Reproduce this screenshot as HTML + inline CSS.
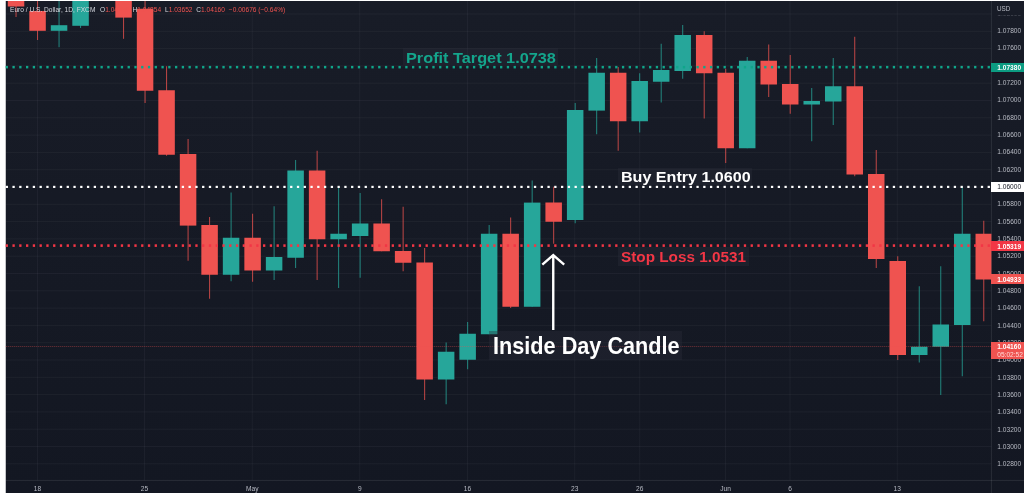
<!DOCTYPE html>
<html><head><meta charset="utf-8"><title>EURUSD Inside Day</title>
<style>
html,body{margin:0;padding:0;background:#fff;}
body{width:1024px;height:493px;overflow:hidden;position:relative;font-family:"Liberation Sans",sans-serif;}
svg{position:absolute;left:0;top:0;}
.pl{position:absolute;font-size:6.6px;line-height:8px;height:8px;margin-top:-3.6px;color:#b8bbc4;white-space:nowrap;}
.tl{position:absolute;top:485px;font-size:6.6px;line-height:8px;color:#b8bbc4;transform:translateX(-50%);white-space:nowrap;}
.tag{position:absolute;left:991.4px;width:32.6px;box-sizing:border-box;padding-left:5.9px;font-size:6.6px;line-height:9px;font-weight:bold;color:#fff;white-space:nowrap;}
.ann{position:absolute;font-weight:bold;white-space:nowrap;background:rgba(42,46,57,0.38);}
.ann span{display:inline-block;transform-origin:0 50%;}
.lg{position:absolute;top:6.2px;font-size:6.6px;line-height:8px;white-space:nowrap;color:#d4d7de;}
.lg i{font-style:normal;color:#ef5350;}
#w{position:absolute;left:0;top:0;width:1024px;height:493px;filter:blur(0.35px);}
</style></head><body><div id="w">
<svg width="1024" height="493" viewBox="0 0 1024 493">
<defs><linearGradient id="bgg" x1="0" y1="0" x2="0" y2="1"><stop offset="0" stop-color="#181c27"/><stop offset="1" stop-color="#131722"/></linearGradient></defs>
<rect x="5.75" y="1.0" width="1018.25" height="492.0" fill="url(#bgg)"/>
<rect x="5.75" y="13.50" width="985.65" height="1" fill="rgba(240,243,250,0.045)"/>
<rect x="5.75" y="30.80" width="985.65" height="1" fill="rgba(240,243,250,0.045)"/>
<rect x="5.75" y="48.10" width="985.65" height="1" fill="rgba(240,243,250,0.045)"/>
<rect x="5.75" y="65.40" width="985.65" height="1" fill="rgba(240,243,250,0.045)"/>
<rect x="5.75" y="82.70" width="985.65" height="1" fill="rgba(240,243,250,0.045)"/>
<rect x="5.75" y="100.00" width="985.65" height="1" fill="rgba(240,243,250,0.045)"/>
<rect x="5.75" y="117.30" width="985.65" height="1" fill="rgba(240,243,250,0.045)"/>
<rect x="5.75" y="134.60" width="985.65" height="1" fill="rgba(240,243,250,0.045)"/>
<rect x="5.75" y="151.90" width="985.65" height="1" fill="rgba(240,243,250,0.045)"/>
<rect x="5.75" y="169.20" width="985.65" height="1" fill="rgba(240,243,250,0.045)"/>
<rect x="5.75" y="186.50" width="985.65" height="1" fill="rgba(240,243,250,0.045)"/>
<rect x="5.75" y="203.80" width="985.65" height="1" fill="rgba(240,243,250,0.045)"/>
<rect x="5.75" y="221.10" width="985.65" height="1" fill="rgba(240,243,250,0.045)"/>
<rect x="5.75" y="238.40" width="985.65" height="1" fill="rgba(240,243,250,0.045)"/>
<rect x="5.75" y="255.70" width="985.65" height="1" fill="rgba(240,243,250,0.045)"/>
<rect x="5.75" y="273.00" width="985.65" height="1" fill="rgba(240,243,250,0.045)"/>
<rect x="5.75" y="290.30" width="985.65" height="1" fill="rgba(240,243,250,0.045)"/>
<rect x="5.75" y="307.60" width="985.65" height="1" fill="rgba(240,243,250,0.045)"/>
<rect x="5.75" y="324.90" width="985.65" height="1" fill="rgba(240,243,250,0.045)"/>
<rect x="5.75" y="342.20" width="985.65" height="1" fill="rgba(240,243,250,0.045)"/>
<rect x="5.75" y="359.50" width="985.65" height="1" fill="rgba(240,243,250,0.045)"/>
<rect x="5.75" y="376.80" width="985.65" height="1" fill="rgba(240,243,250,0.045)"/>
<rect x="5.75" y="394.10" width="985.65" height="1" fill="rgba(240,243,250,0.045)"/>
<rect x="5.75" y="411.40" width="985.65" height="1" fill="rgba(240,243,250,0.045)"/>
<rect x="5.75" y="428.70" width="985.65" height="1" fill="rgba(240,243,250,0.045)"/>
<rect x="5.75" y="446.00" width="985.65" height="1" fill="rgba(240,243,250,0.045)"/>
<rect x="5.75" y="463.30" width="985.65" height="1" fill="rgba(240,243,250,0.045)"/>
<rect x="37.00" y="1.0" width="1" height="479.40" fill="rgba(240,243,250,0.045)"/>
<rect x="144.00" y="1.0" width="1" height="479.40" fill="rgba(240,243,250,0.045)"/>
<rect x="251.75" y="1.0" width="1" height="479.40" fill="rgba(240,243,250,0.045)"/>
<rect x="359.25" y="1.0" width="1" height="479.40" fill="rgba(240,243,250,0.045)"/>
<rect x="467.00" y="1.0" width="1" height="479.40" fill="rgba(240,243,250,0.045)"/>
<rect x="574.25" y="1.0" width="1" height="479.40" fill="rgba(240,243,250,0.045)"/>
<rect x="639.25" y="1.0" width="1" height="479.40" fill="rgba(240,243,250,0.045)"/>
<rect x="725.00" y="1.0" width="1" height="479.40" fill="rgba(240,243,250,0.045)"/>
<rect x="789.50" y="1.0" width="1" height="479.40" fill="rgba(240,243,250,0.045)"/>
<rect x="896.75" y="1.0" width="1" height="479.40" fill="rgba(240,243,250,0.045)"/>
<rect x="990.90" y="1.0" width="1" height="492.0" fill="rgba(240,243,250,0.10)"/>
<rect x="5.75" y="479.90" width="1018.25" height="1" fill="rgba(240,243,250,0.10)"/>
<clipPath id="cp"><rect x="5.75" y="1.0" width="985.65" height="479.40"/></clipPath>
<g clip-path="url(#cp)">
<rect x="15.54" y="1.00" width="1.0" height="16.00" fill="#ef5350" opacity="0.78"/>
<rect x="7.79" y="1.00" width="16.5" height="5.50" fill="#ef5350"/>
<rect x="37.05" y="1.00" width="1.0" height="39.00" fill="#ef5350" opacity="0.78"/>
<rect x="29.30" y="11.00" width="16.5" height="19.80" fill="#ef5350"/>
<rect x="58.55" y="1.00" width="1.0" height="46.20" fill="#26a69a" opacity="0.78"/>
<rect x="50.80" y="25.20" width="16.5" height="5.60" fill="#26a69a"/>
<rect x="80.06" y="1.00" width="1.0" height="27.00" fill="#26a69a" opacity="0.78"/>
<rect x="72.31" y="1.00" width="16.5" height="24.80" fill="#26a69a"/>
<rect x="123.07" y="1.00" width="1.0" height="37.80" fill="#ef5350" opacity="0.78"/>
<rect x="115.32" y="1.00" width="16.5" height="16.60" fill="#ef5350"/>
<rect x="144.57" y="1.00" width="1.0" height="102.00" fill="#ef5350" opacity="0.78"/>
<rect x="136.82" y="8.75" width="16.5" height="82.00" fill="#ef5350"/>
<rect x="166.08" y="66.25" width="1.0" height="89.50" fill="#ef5350" opacity="0.78"/>
<rect x="158.33" y="90.25" width="16.5" height="64.50" fill="#ef5350"/>
<rect x="187.58" y="139.00" width="1.0" height="121.75" fill="#ef5350" opacity="0.78"/>
<rect x="179.83" y="154.00" width="16.5" height="71.60" fill="#ef5350"/>
<rect x="209.09" y="217.00" width="1.0" height="81.75" fill="#ef5350" opacity="0.78"/>
<rect x="201.34" y="225.00" width="16.5" height="49.75" fill="#ef5350"/>
<rect x="230.59" y="192.50" width="1.0" height="88.75" fill="#26a69a" opacity="0.78"/>
<rect x="222.84" y="237.75" width="16.5" height="37.00" fill="#26a69a"/>
<rect x="252.10" y="213.75" width="1.0" height="68.00" fill="#ef5350" opacity="0.78"/>
<rect x="244.35" y="237.75" width="16.5" height="32.75" fill="#ef5350"/>
<rect x="273.60" y="206.25" width="1.0" height="73.75" fill="#26a69a" opacity="0.78"/>
<rect x="265.85" y="257.00" width="16.5" height="13.50" fill="#26a69a"/>
<rect x="295.11" y="160.00" width="1.0" height="108.00" fill="#26a69a" opacity="0.78"/>
<rect x="287.36" y="170.50" width="16.5" height="87.25" fill="#26a69a"/>
<rect x="316.62" y="150.75" width="1.0" height="129.25" fill="#ef5350" opacity="0.78"/>
<rect x="308.87" y="170.50" width="16.5" height="68.75" fill="#ef5350"/>
<rect x="338.12" y="186.75" width="1.0" height="101.25" fill="#26a69a" opacity="0.78"/>
<rect x="330.37" y="233.75" width="16.5" height="5.50" fill="#26a69a"/>
<rect x="359.62" y="193.00" width="1.0" height="84.75" fill="#26a69a" opacity="0.78"/>
<rect x="351.88" y="223.50" width="16.5" height="12.50" fill="#26a69a"/>
<rect x="381.13" y="199.25" width="1.0" height="52.00" fill="#ef5350" opacity="0.78"/>
<rect x="373.38" y="223.50" width="16.5" height="27.75" fill="#ef5350"/>
<rect x="402.63" y="206.75" width="1.0" height="64.50" fill="#ef5350" opacity="0.78"/>
<rect x="394.88" y="251.00" width="16.5" height="11.75" fill="#ef5350"/>
<rect x="424.14" y="248.00" width="1.0" height="152.00" fill="#ef5350" opacity="0.78"/>
<rect x="416.39" y="262.50" width="16.5" height="117.00" fill="#ef5350"/>
<rect x="445.64" y="342.50" width="1.0" height="61.75" fill="#26a69a" opacity="0.78"/>
<rect x="437.89" y="351.75" width="16.5" height="27.75" fill="#26a69a"/>
<rect x="467.15" y="322.00" width="1.0" height="47.25" fill="#26a69a" opacity="0.78"/>
<rect x="459.40" y="333.75" width="16.5" height="26.00" fill="#26a69a"/>
<rect x="488.65" y="225.00" width="1.0" height="109.25" fill="#26a69a" opacity="0.78"/>
<rect x="480.90" y="233.75" width="16.5" height="100.50" fill="#26a69a"/>
<rect x="510.16" y="217.50" width="1.0" height="90.50" fill="#ef5350" opacity="0.78"/>
<rect x="502.41" y="233.75" width="16.5" height="73.00" fill="#ef5350"/>
<rect x="531.66" y="180.50" width="1.0" height="126.25" fill="#26a69a" opacity="0.78"/>
<rect x="523.91" y="202.60" width="16.5" height="104.15" fill="#26a69a"/>
<rect x="553.17" y="186.75" width="1.0" height="57.00" fill="#ef5350" opacity="0.78"/>
<rect x="545.42" y="202.50" width="16.5" height="19.25" fill="#ef5350"/>
<rect x="574.67" y="103.00" width="1.0" height="120.25" fill="#26a69a" opacity="0.78"/>
<rect x="566.92" y="110.00" width="16.5" height="110.00" fill="#26a69a"/>
<rect x="596.18" y="58.00" width="1.0" height="76.25" fill="#26a69a" opacity="0.78"/>
<rect x="588.43" y="72.75" width="16.5" height="37.85" fill="#26a69a"/>
<rect x="617.68" y="67.00" width="1.0" height="83.75" fill="#ef5350" opacity="0.78"/>
<rect x="609.93" y="72.75" width="16.5" height="48.50" fill="#ef5350"/>
<rect x="639.19" y="73.25" width="1.0" height="59.25" fill="#26a69a" opacity="0.78"/>
<rect x="631.44" y="81.00" width="16.5" height="40.25" fill="#26a69a"/>
<rect x="660.69" y="43.75" width="1.0" height="58.75" fill="#26a69a" opacity="0.78"/>
<rect x="652.94" y="70.00" width="16.5" height="11.75" fill="#26a69a"/>
<rect x="682.20" y="25.00" width="1.0" height="53.75" fill="#26a69a" opacity="0.78"/>
<rect x="674.45" y="35.00" width="16.5" height="36.00" fill="#26a69a"/>
<rect x="703.70" y="31.25" width="1.0" height="87.25" fill="#ef5350" opacity="0.78"/>
<rect x="695.95" y="35.00" width="16.5" height="38.25" fill="#ef5350"/>
<rect x="725.21" y="68.75" width="1.0" height="94.25" fill="#ef5350" opacity="0.78"/>
<rect x="717.46" y="72.75" width="16.5" height="75.50" fill="#ef5350"/>
<rect x="746.71" y="57.00" width="1.0" height="91.25" fill="#26a69a" opacity="0.78"/>
<rect x="738.96" y="60.75" width="16.5" height="87.50" fill="#26a69a"/>
<rect x="768.22" y="44.50" width="1.0" height="52.50" fill="#ef5350" opacity="0.78"/>
<rect x="760.47" y="60.75" width="16.5" height="23.75" fill="#ef5350"/>
<rect x="789.72" y="55.00" width="1.0" height="58.75" fill="#ef5350" opacity="0.78"/>
<rect x="781.97" y="84.00" width="16.5" height="20.50" fill="#ef5350"/>
<rect x="811.23" y="88.00" width="1.0" height="53.25" fill="#26a69a" opacity="0.78"/>
<rect x="803.48" y="101.00" width="16.5" height="3.50" fill="#26a69a"/>
<rect x="832.73" y="58.00" width="1.0" height="67.00" fill="#26a69a" opacity="0.78"/>
<rect x="824.98" y="86.25" width="16.5" height="15.25" fill="#26a69a"/>
<rect x="854.24" y="36.75" width="1.0" height="139.50" fill="#ef5350" opacity="0.78"/>
<rect x="846.49" y="86.25" width="16.5" height="88.25" fill="#ef5350"/>
<rect x="875.74" y="150.00" width="1.0" height="118.00" fill="#ef5350" opacity="0.78"/>
<rect x="867.99" y="174.00" width="16.5" height="85.00" fill="#ef5350"/>
<rect x="897.25" y="256.25" width="1.0" height="103.75" fill="#ef5350" opacity="0.78"/>
<rect x="889.50" y="261.00" width="16.5" height="94.00" fill="#ef5350"/>
<rect x="918.75" y="286.25" width="1.0" height="76.25" fill="#26a69a" opacity="0.78"/>
<rect x="911.00" y="346.75" width="16.5" height="8.25" fill="#26a69a"/>
<rect x="940.26" y="266.25" width="1.0" height="128.75" fill="#26a69a" opacity="0.78"/>
<rect x="932.51" y="324.50" width="16.5" height="22.25" fill="#26a69a"/>
<rect x="961.76" y="186.25" width="1.0" height="190.00" fill="#26a69a" opacity="0.78"/>
<rect x="954.01" y="233.75" width="16.5" height="91.25" fill="#26a69a"/>
<rect x="983.27" y="220.75" width="1.0" height="100.50" fill="#ef5350" opacity="0.78"/>
<rect x="975.52" y="233.75" width="16.5" height="45.75" fill="#ef5350"/>
</g>
<line x1="5.75" y1="346.4" x2="991.4" y2="346.4" stroke="#ef5350" stroke-width="0.8" stroke-dasharray="1 1" opacity="0.6"/>
<rect x="5.68" y="65.90" width="2.30" height="2.5" fill="#0fa68a"/><rect x="12.45" y="65.90" width="2.30" height="2.5" fill="#0fa68a"/><rect x="19.22" y="65.90" width="2.30" height="2.5" fill="#0fa68a"/><rect x="26.00" y="65.90" width="2.30" height="2.5" fill="#0fa68a"/><rect x="32.77" y="65.90" width="2.30" height="2.5" fill="#0fa68a"/><rect x="39.54" y="65.90" width="2.30" height="2.5" fill="#0fa68a"/><rect x="46.31" y="65.90" width="2.30" height="2.5" fill="#0fa68a"/><rect x="53.08" y="65.90" width="2.30" height="2.5" fill="#0fa68a"/><rect x="59.86" y="65.90" width="2.30" height="2.5" fill="#0fa68a"/><rect x="66.63" y="65.90" width="2.30" height="2.5" fill="#0fa68a"/><rect x="73.40" y="65.90" width="2.30" height="2.5" fill="#0fa68a"/><rect x="80.17" y="65.90" width="2.30" height="2.5" fill="#0fa68a"/><rect x="86.94" y="65.90" width="2.30" height="2.5" fill="#0fa68a"/><rect x="93.72" y="65.90" width="2.30" height="2.5" fill="#0fa68a"/><rect x="100.49" y="65.90" width="2.30" height="2.5" fill="#0fa68a"/><rect x="107.26" y="65.90" width="2.30" height="2.5" fill="#0fa68a"/><rect x="114.03" y="65.90" width="2.30" height="2.5" fill="#0fa68a"/><rect x="120.80" y="65.90" width="2.30" height="2.5" fill="#0fa68a"/><rect x="127.58" y="65.90" width="2.30" height="2.5" fill="#0fa68a"/><rect x="134.35" y="65.90" width="2.30" height="2.5" fill="#0fa68a"/><rect x="141.12" y="65.90" width="2.30" height="2.5" fill="#0fa68a"/><rect x="147.89" y="65.90" width="2.30" height="2.5" fill="#0fa68a"/><rect x="154.66" y="65.90" width="2.30" height="2.5" fill="#0fa68a"/><rect x="161.44" y="65.90" width="2.30" height="2.5" fill="#0fa68a"/><rect x="168.21" y="65.90" width="2.30" height="2.5" fill="#0fa68a"/><rect x="174.98" y="65.90" width="2.30" height="2.5" fill="#0fa68a"/><rect x="181.75" y="65.90" width="2.30" height="2.5" fill="#0fa68a"/><rect x="188.52" y="65.90" width="2.30" height="2.5" fill="#0fa68a"/><rect x="195.30" y="65.90" width="2.30" height="2.5" fill="#0fa68a"/><rect x="202.07" y="65.90" width="2.30" height="2.5" fill="#0fa68a"/><rect x="208.84" y="65.90" width="2.30" height="2.5" fill="#0fa68a"/><rect x="215.61" y="65.90" width="2.30" height="2.5" fill="#0fa68a"/><rect x="222.38" y="65.90" width="2.30" height="2.5" fill="#0fa68a"/><rect x="229.16" y="65.90" width="2.30" height="2.5" fill="#0fa68a"/><rect x="235.93" y="65.90" width="2.30" height="2.5" fill="#0fa68a"/><rect x="242.70" y="65.90" width="2.30" height="2.5" fill="#0fa68a"/><rect x="249.47" y="65.90" width="2.30" height="2.5" fill="#0fa68a"/><rect x="256.24" y="65.90" width="2.30" height="2.5" fill="#0fa68a"/><rect x="263.02" y="65.90" width="2.30" height="2.5" fill="#0fa68a"/><rect x="269.79" y="65.90" width="2.30" height="2.5" fill="#0fa68a"/><rect x="276.56" y="65.90" width="2.30" height="2.5" fill="#0fa68a"/><rect x="283.33" y="65.90" width="2.30" height="2.5" fill="#0fa68a"/><rect x="290.10" y="65.90" width="2.30" height="2.5" fill="#0fa68a"/><rect x="296.88" y="65.90" width="2.30" height="2.5" fill="#0fa68a"/><rect x="303.65" y="65.90" width="2.30" height="2.5" fill="#0fa68a"/><rect x="310.42" y="65.90" width="2.30" height="2.5" fill="#0fa68a"/><rect x="317.19" y="65.90" width="2.30" height="2.5" fill="#0fa68a"/><rect x="323.96" y="65.90" width="2.30" height="2.5" fill="#0fa68a"/><rect x="330.74" y="65.90" width="2.30" height="2.5" fill="#0fa68a"/><rect x="337.51" y="65.90" width="2.30" height="2.5" fill="#0fa68a"/><rect x="344.28" y="65.90" width="2.30" height="2.5" fill="#0fa68a"/><rect x="351.05" y="65.90" width="2.30" height="2.5" fill="#0fa68a"/><rect x="357.82" y="65.90" width="2.30" height="2.5" fill="#0fa68a"/><rect x="364.60" y="65.90" width="2.30" height="2.5" fill="#0fa68a"/><rect x="371.37" y="65.90" width="2.30" height="2.5" fill="#0fa68a"/><rect x="378.14" y="65.90" width="2.30" height="2.5" fill="#0fa68a"/><rect x="384.91" y="65.90" width="2.30" height="2.5" fill="#0fa68a"/><rect x="391.68" y="65.90" width="2.30" height="2.5" fill="#0fa68a"/><rect x="398.46" y="65.90" width="2.30" height="2.5" fill="#0fa68a"/><rect x="405.23" y="65.90" width="2.30" height="2.5" fill="#0fa68a"/><rect x="412.00" y="65.90" width="2.30" height="2.5" fill="#0fa68a"/><rect x="418.77" y="65.90" width="2.30" height="2.5" fill="#0fa68a"/><rect x="425.54" y="65.90" width="2.30" height="2.5" fill="#0fa68a"/><rect x="432.32" y="65.90" width="2.30" height="2.5" fill="#0fa68a"/><rect x="439.09" y="65.90" width="2.30" height="2.5" fill="#0fa68a"/><rect x="445.86" y="65.90" width="2.30" height="2.5" fill="#0fa68a"/><rect x="452.63" y="65.90" width="2.30" height="2.5" fill="#0fa68a"/><rect x="459.40" y="65.90" width="2.30" height="2.5" fill="#0fa68a"/><rect x="466.18" y="65.90" width="2.30" height="2.5" fill="#0fa68a"/><rect x="472.95" y="65.90" width="2.30" height="2.5" fill="#0fa68a"/><rect x="479.72" y="65.90" width="2.30" height="2.5" fill="#0fa68a"/><rect x="486.49" y="65.90" width="2.30" height="2.5" fill="#0fa68a"/><rect x="493.26" y="65.90" width="2.30" height="2.5" fill="#0fa68a"/><rect x="500.04" y="65.90" width="2.30" height="2.5" fill="#0fa68a"/><rect x="506.81" y="65.90" width="2.30" height="2.5" fill="#0fa68a"/><rect x="513.58" y="65.90" width="2.30" height="2.5" fill="#0fa68a"/><rect x="520.35" y="65.90" width="2.30" height="2.5" fill="#0fa68a"/><rect x="527.12" y="65.90" width="2.30" height="2.5" fill="#0fa68a"/><rect x="533.90" y="65.90" width="2.30" height="2.5" fill="#0fa68a"/><rect x="540.67" y="65.90" width="2.30" height="2.5" fill="#0fa68a"/><rect x="547.44" y="65.90" width="2.30" height="2.5" fill="#0fa68a"/><rect x="554.21" y="65.90" width="2.30" height="2.5" fill="#0fa68a"/><rect x="560.98" y="65.90" width="2.30" height="2.5" fill="#0fa68a"/><rect x="567.76" y="65.90" width="2.30" height="2.5" fill="#0fa68a"/><rect x="574.53" y="65.90" width="2.30" height="2.5" fill="#0fa68a"/><rect x="581.30" y="65.90" width="2.30" height="2.5" fill="#0fa68a"/><rect x="588.07" y="65.90" width="2.30" height="2.5" fill="#0fa68a"/><rect x="594.84" y="65.90" width="2.30" height="2.5" fill="#0fa68a"/><rect x="601.62" y="65.90" width="2.30" height="2.5" fill="#0fa68a"/><rect x="608.39" y="65.90" width="2.30" height="2.5" fill="#0fa68a"/><rect x="615.16" y="65.90" width="2.30" height="2.5" fill="#0fa68a"/><rect x="621.93" y="65.90" width="2.30" height="2.5" fill="#0fa68a"/><rect x="628.70" y="65.90" width="2.30" height="2.5" fill="#0fa68a"/><rect x="635.48" y="65.90" width="2.30" height="2.5" fill="#0fa68a"/><rect x="642.25" y="65.90" width="2.30" height="2.5" fill="#0fa68a"/><rect x="649.02" y="65.90" width="2.30" height="2.5" fill="#0fa68a"/><rect x="655.79" y="65.90" width="2.30" height="2.5" fill="#0fa68a"/><rect x="662.56" y="65.90" width="2.30" height="2.5" fill="#0fa68a"/><rect x="669.34" y="65.90" width="2.30" height="2.5" fill="#0fa68a"/><rect x="676.11" y="65.90" width="2.30" height="2.5" fill="#0fa68a"/><rect x="682.88" y="65.90" width="2.30" height="2.5" fill="#0fa68a"/><rect x="689.65" y="65.90" width="2.30" height="2.5" fill="#0fa68a"/><rect x="696.42" y="65.90" width="2.30" height="2.5" fill="#0fa68a"/><rect x="703.20" y="65.90" width="2.30" height="2.5" fill="#0fa68a"/><rect x="709.97" y="65.90" width="2.30" height="2.5" fill="#0fa68a"/><rect x="716.74" y="65.90" width="2.30" height="2.5" fill="#0fa68a"/><rect x="723.51" y="65.90" width="2.30" height="2.5" fill="#0fa68a"/><rect x="730.28" y="65.90" width="2.30" height="2.5" fill="#0fa68a"/><rect x="737.06" y="65.90" width="2.30" height="2.5" fill="#0fa68a"/><rect x="743.83" y="65.90" width="2.30" height="2.5" fill="#0fa68a"/><rect x="750.60" y="65.90" width="2.30" height="2.5" fill="#0fa68a"/><rect x="757.37" y="65.90" width="2.30" height="2.5" fill="#0fa68a"/><rect x="764.14" y="65.90" width="2.30" height="2.5" fill="#0fa68a"/><rect x="770.92" y="65.90" width="2.30" height="2.5" fill="#0fa68a"/><rect x="777.69" y="65.90" width="2.30" height="2.5" fill="#0fa68a"/><rect x="784.46" y="65.90" width="2.30" height="2.5" fill="#0fa68a"/><rect x="791.23" y="65.90" width="2.30" height="2.5" fill="#0fa68a"/><rect x="798.00" y="65.90" width="2.30" height="2.5" fill="#0fa68a"/><rect x="804.78" y="65.90" width="2.30" height="2.5" fill="#0fa68a"/><rect x="811.55" y="65.90" width="2.30" height="2.5" fill="#0fa68a"/><rect x="818.32" y="65.90" width="2.30" height="2.5" fill="#0fa68a"/><rect x="825.09" y="65.90" width="2.30" height="2.5" fill="#0fa68a"/><rect x="831.86" y="65.90" width="2.30" height="2.5" fill="#0fa68a"/><rect x="838.64" y="65.90" width="2.30" height="2.5" fill="#0fa68a"/><rect x="845.41" y="65.90" width="2.30" height="2.5" fill="#0fa68a"/><rect x="852.18" y="65.90" width="2.30" height="2.5" fill="#0fa68a"/><rect x="858.95" y="65.90" width="2.30" height="2.5" fill="#0fa68a"/><rect x="865.72" y="65.90" width="2.30" height="2.5" fill="#0fa68a"/><rect x="872.50" y="65.90" width="2.30" height="2.5" fill="#0fa68a"/><rect x="879.27" y="65.90" width="2.30" height="2.5" fill="#0fa68a"/><rect x="886.04" y="65.90" width="2.30" height="2.5" fill="#0fa68a"/><rect x="892.81" y="65.90" width="2.30" height="2.5" fill="#0fa68a"/><rect x="899.58" y="65.90" width="2.30" height="2.5" fill="#0fa68a"/><rect x="906.36" y="65.90" width="2.30" height="2.5" fill="#0fa68a"/><rect x="913.13" y="65.90" width="2.30" height="2.5" fill="#0fa68a"/><rect x="919.90" y="65.90" width="2.30" height="2.5" fill="#0fa68a"/><rect x="926.67" y="65.90" width="2.30" height="2.5" fill="#0fa68a"/><rect x="933.44" y="65.90" width="2.30" height="2.5" fill="#0fa68a"/><rect x="940.22" y="65.90" width="2.30" height="2.5" fill="#0fa68a"/><rect x="946.99" y="65.90" width="2.30" height="2.5" fill="#0fa68a"/><rect x="953.76" y="65.90" width="2.30" height="2.5" fill="#0fa68a"/><rect x="960.53" y="65.90" width="2.30" height="2.5" fill="#0fa68a"/><rect x="967.30" y="65.90" width="2.30" height="2.5" fill="#0fa68a"/><rect x="974.08" y="65.90" width="2.30" height="2.5" fill="#0fa68a"/><rect x="980.85" y="65.90" width="2.30" height="2.5" fill="#0fa68a"/><rect x="987.62" y="65.90" width="2.30" height="2.5" fill="#0fa68a"/>
<rect x="5.68" y="185.80" width="2.30" height="2.2" fill="#ffffff"/><rect x="12.45" y="185.80" width="2.30" height="2.2" fill="#ffffff"/><rect x="19.22" y="185.80" width="2.30" height="2.2" fill="#ffffff"/><rect x="26.00" y="185.80" width="2.30" height="2.2" fill="#ffffff"/><rect x="32.77" y="185.80" width="2.30" height="2.2" fill="#ffffff"/><rect x="39.54" y="185.80" width="2.30" height="2.2" fill="#ffffff"/><rect x="46.31" y="185.80" width="2.30" height="2.2" fill="#ffffff"/><rect x="53.08" y="185.80" width="2.30" height="2.2" fill="#ffffff"/><rect x="59.86" y="185.80" width="2.30" height="2.2" fill="#ffffff"/><rect x="66.63" y="185.80" width="2.30" height="2.2" fill="#ffffff"/><rect x="73.40" y="185.80" width="2.30" height="2.2" fill="#ffffff"/><rect x="80.17" y="185.80" width="2.30" height="2.2" fill="#ffffff"/><rect x="86.94" y="185.80" width="2.30" height="2.2" fill="#ffffff"/><rect x="93.72" y="185.80" width="2.30" height="2.2" fill="#ffffff"/><rect x="100.49" y="185.80" width="2.30" height="2.2" fill="#ffffff"/><rect x="107.26" y="185.80" width="2.30" height="2.2" fill="#ffffff"/><rect x="114.03" y="185.80" width="2.30" height="2.2" fill="#ffffff"/><rect x="120.80" y="185.80" width="2.30" height="2.2" fill="#ffffff"/><rect x="127.58" y="185.80" width="2.30" height="2.2" fill="#ffffff"/><rect x="134.35" y="185.80" width="2.30" height="2.2" fill="#ffffff"/><rect x="141.12" y="185.80" width="2.30" height="2.2" fill="#ffffff"/><rect x="147.89" y="185.80" width="2.30" height="2.2" fill="#ffffff"/><rect x="154.66" y="185.80" width="2.30" height="2.2" fill="#ffffff"/><rect x="161.44" y="185.80" width="2.30" height="2.2" fill="#ffffff"/><rect x="168.21" y="185.80" width="2.30" height="2.2" fill="#ffffff"/><rect x="174.98" y="185.80" width="2.30" height="2.2" fill="#ffffff"/><rect x="181.75" y="185.80" width="2.30" height="2.2" fill="#ffffff"/><rect x="188.52" y="185.80" width="2.30" height="2.2" fill="#ffffff"/><rect x="195.30" y="185.80" width="2.30" height="2.2" fill="#ffffff"/><rect x="202.07" y="185.80" width="2.30" height="2.2" fill="#ffffff"/><rect x="208.84" y="185.80" width="2.30" height="2.2" fill="#ffffff"/><rect x="215.61" y="185.80" width="2.30" height="2.2" fill="#ffffff"/><rect x="222.38" y="185.80" width="2.30" height="2.2" fill="#ffffff"/><rect x="229.16" y="185.80" width="2.30" height="2.2" fill="#ffffff"/><rect x="235.93" y="185.80" width="2.30" height="2.2" fill="#ffffff"/><rect x="242.70" y="185.80" width="2.30" height="2.2" fill="#ffffff"/><rect x="249.47" y="185.80" width="2.30" height="2.2" fill="#ffffff"/><rect x="256.24" y="185.80" width="2.30" height="2.2" fill="#ffffff"/><rect x="263.02" y="185.80" width="2.30" height="2.2" fill="#ffffff"/><rect x="269.79" y="185.80" width="2.30" height="2.2" fill="#ffffff"/><rect x="276.56" y="185.80" width="2.30" height="2.2" fill="#ffffff"/><rect x="283.33" y="185.80" width="2.30" height="2.2" fill="#ffffff"/><rect x="290.10" y="185.80" width="2.30" height="2.2" fill="#ffffff"/><rect x="296.88" y="185.80" width="2.30" height="2.2" fill="#ffffff"/><rect x="303.65" y="185.80" width="2.30" height="2.2" fill="#ffffff"/><rect x="310.42" y="185.80" width="2.30" height="2.2" fill="#ffffff"/><rect x="317.19" y="185.80" width="2.30" height="2.2" fill="#ffffff"/><rect x="323.96" y="185.80" width="2.30" height="2.2" fill="#ffffff"/><rect x="330.74" y="185.80" width="2.30" height="2.2" fill="#ffffff"/><rect x="337.51" y="185.80" width="2.30" height="2.2" fill="#ffffff"/><rect x="344.28" y="185.80" width="2.30" height="2.2" fill="#ffffff"/><rect x="351.05" y="185.80" width="2.30" height="2.2" fill="#ffffff"/><rect x="357.82" y="185.80" width="2.30" height="2.2" fill="#ffffff"/><rect x="364.60" y="185.80" width="2.30" height="2.2" fill="#ffffff"/><rect x="371.37" y="185.80" width="2.30" height="2.2" fill="#ffffff"/><rect x="378.14" y="185.80" width="2.30" height="2.2" fill="#ffffff"/><rect x="384.91" y="185.80" width="2.30" height="2.2" fill="#ffffff"/><rect x="391.68" y="185.80" width="2.30" height="2.2" fill="#ffffff"/><rect x="398.46" y="185.80" width="2.30" height="2.2" fill="#ffffff"/><rect x="405.23" y="185.80" width="2.30" height="2.2" fill="#ffffff"/><rect x="412.00" y="185.80" width="2.30" height="2.2" fill="#ffffff"/><rect x="418.77" y="185.80" width="2.30" height="2.2" fill="#ffffff"/><rect x="425.54" y="185.80" width="2.30" height="2.2" fill="#ffffff"/><rect x="432.32" y="185.80" width="2.30" height="2.2" fill="#ffffff"/><rect x="439.09" y="185.80" width="2.30" height="2.2" fill="#ffffff"/><rect x="445.86" y="185.80" width="2.30" height="2.2" fill="#ffffff"/><rect x="452.63" y="185.80" width="2.30" height="2.2" fill="#ffffff"/><rect x="459.40" y="185.80" width="2.30" height="2.2" fill="#ffffff"/><rect x="466.18" y="185.80" width="2.30" height="2.2" fill="#ffffff"/><rect x="472.95" y="185.80" width="2.30" height="2.2" fill="#ffffff"/><rect x="479.72" y="185.80" width="2.30" height="2.2" fill="#ffffff"/><rect x="486.49" y="185.80" width="2.30" height="2.2" fill="#ffffff"/><rect x="493.26" y="185.80" width="2.30" height="2.2" fill="#ffffff"/><rect x="500.04" y="185.80" width="2.30" height="2.2" fill="#ffffff"/><rect x="506.81" y="185.80" width="2.30" height="2.2" fill="#ffffff"/><rect x="513.58" y="185.80" width="2.30" height="2.2" fill="#ffffff"/><rect x="520.35" y="185.80" width="2.30" height="2.2" fill="#ffffff"/><rect x="527.12" y="185.80" width="2.30" height="2.2" fill="#ffffff"/><rect x="533.90" y="185.80" width="2.30" height="2.2" fill="#ffffff"/><rect x="540.67" y="185.80" width="2.30" height="2.2" fill="#ffffff"/><rect x="547.44" y="185.80" width="2.30" height="2.2" fill="#ffffff"/><rect x="554.21" y="185.80" width="2.30" height="2.2" fill="#ffffff"/><rect x="560.98" y="185.80" width="2.30" height="2.2" fill="#ffffff"/><rect x="567.76" y="185.80" width="2.30" height="2.2" fill="#ffffff"/><rect x="574.53" y="185.80" width="2.30" height="2.2" fill="#ffffff"/><rect x="581.30" y="185.80" width="2.30" height="2.2" fill="#ffffff"/><rect x="588.07" y="185.80" width="2.30" height="2.2" fill="#ffffff"/><rect x="594.84" y="185.80" width="2.30" height="2.2" fill="#ffffff"/><rect x="601.62" y="185.80" width="2.30" height="2.2" fill="#ffffff"/><rect x="608.39" y="185.80" width="2.30" height="2.2" fill="#ffffff"/><rect x="615.16" y="185.80" width="2.30" height="2.2" fill="#ffffff"/><rect x="621.93" y="185.80" width="2.30" height="2.2" fill="#ffffff"/><rect x="628.70" y="185.80" width="2.30" height="2.2" fill="#ffffff"/><rect x="635.48" y="185.80" width="2.30" height="2.2" fill="#ffffff"/><rect x="642.25" y="185.80" width="2.30" height="2.2" fill="#ffffff"/><rect x="649.02" y="185.80" width="2.30" height="2.2" fill="#ffffff"/><rect x="655.79" y="185.80" width="2.30" height="2.2" fill="#ffffff"/><rect x="662.56" y="185.80" width="2.30" height="2.2" fill="#ffffff"/><rect x="669.34" y="185.80" width="2.30" height="2.2" fill="#ffffff"/><rect x="676.11" y="185.80" width="2.30" height="2.2" fill="#ffffff"/><rect x="682.88" y="185.80" width="2.30" height="2.2" fill="#ffffff"/><rect x="689.65" y="185.80" width="2.30" height="2.2" fill="#ffffff"/><rect x="696.42" y="185.80" width="2.30" height="2.2" fill="#ffffff"/><rect x="703.20" y="185.80" width="2.30" height="2.2" fill="#ffffff"/><rect x="709.97" y="185.80" width="2.30" height="2.2" fill="#ffffff"/><rect x="716.74" y="185.80" width="2.30" height="2.2" fill="#ffffff"/><rect x="723.51" y="185.80" width="2.30" height="2.2" fill="#ffffff"/><rect x="730.28" y="185.80" width="2.30" height="2.2" fill="#ffffff"/><rect x="737.06" y="185.80" width="2.30" height="2.2" fill="#ffffff"/><rect x="743.83" y="185.80" width="2.30" height="2.2" fill="#ffffff"/><rect x="750.60" y="185.80" width="2.30" height="2.2" fill="#ffffff"/><rect x="757.37" y="185.80" width="2.30" height="2.2" fill="#ffffff"/><rect x="764.14" y="185.80" width="2.30" height="2.2" fill="#ffffff"/><rect x="770.92" y="185.80" width="2.30" height="2.2" fill="#ffffff"/><rect x="777.69" y="185.80" width="2.30" height="2.2" fill="#ffffff"/><rect x="784.46" y="185.80" width="2.30" height="2.2" fill="#ffffff"/><rect x="791.23" y="185.80" width="2.30" height="2.2" fill="#ffffff"/><rect x="798.00" y="185.80" width="2.30" height="2.2" fill="#ffffff"/><rect x="804.78" y="185.80" width="2.30" height="2.2" fill="#ffffff"/><rect x="811.55" y="185.80" width="2.30" height="2.2" fill="#ffffff"/><rect x="818.32" y="185.80" width="2.30" height="2.2" fill="#ffffff"/><rect x="825.09" y="185.80" width="2.30" height="2.2" fill="#ffffff"/><rect x="831.86" y="185.80" width="2.30" height="2.2" fill="#ffffff"/><rect x="838.64" y="185.80" width="2.30" height="2.2" fill="#ffffff"/><rect x="845.41" y="185.80" width="2.30" height="2.2" fill="#ffffff"/><rect x="852.18" y="185.80" width="2.30" height="2.2" fill="#ffffff"/><rect x="858.95" y="185.80" width="2.30" height="2.2" fill="#ffffff"/><rect x="865.72" y="185.80" width="2.30" height="2.2" fill="#ffffff"/><rect x="872.50" y="185.80" width="2.30" height="2.2" fill="#ffffff"/><rect x="879.27" y="185.80" width="2.30" height="2.2" fill="#ffffff"/><rect x="886.04" y="185.80" width="2.30" height="2.2" fill="#ffffff"/><rect x="892.81" y="185.80" width="2.30" height="2.2" fill="#ffffff"/><rect x="899.58" y="185.80" width="2.30" height="2.2" fill="#ffffff"/><rect x="906.36" y="185.80" width="2.30" height="2.2" fill="#ffffff"/><rect x="913.13" y="185.80" width="2.30" height="2.2" fill="#ffffff"/><rect x="919.90" y="185.80" width="2.30" height="2.2" fill="#ffffff"/><rect x="926.67" y="185.80" width="2.30" height="2.2" fill="#ffffff"/><rect x="933.44" y="185.80" width="2.30" height="2.2" fill="#ffffff"/><rect x="940.22" y="185.80" width="2.30" height="2.2" fill="#ffffff"/><rect x="946.99" y="185.80" width="2.30" height="2.2" fill="#ffffff"/><rect x="953.76" y="185.80" width="2.30" height="2.2" fill="#ffffff"/><rect x="960.53" y="185.80" width="2.30" height="2.2" fill="#ffffff"/><rect x="967.30" y="185.80" width="2.30" height="2.2" fill="#ffffff"/><rect x="974.08" y="185.80" width="2.30" height="2.2" fill="#ffffff"/><rect x="980.85" y="185.80" width="2.30" height="2.2" fill="#ffffff"/><rect x="987.62" y="185.80" width="2.30" height="2.2" fill="#ffffff"/>
<rect x="5.68" y="244.30" width="2.30" height="2.6" fill="#f23645"/><rect x="12.45" y="244.30" width="2.30" height="2.6" fill="#f23645"/><rect x="19.22" y="244.30" width="2.30" height="2.6" fill="#f23645"/><rect x="26.00" y="244.30" width="2.30" height="2.6" fill="#f23645"/><rect x="32.77" y="244.30" width="2.30" height="2.6" fill="#f23645"/><rect x="39.54" y="244.30" width="2.30" height="2.6" fill="#f23645"/><rect x="46.31" y="244.30" width="2.30" height="2.6" fill="#f23645"/><rect x="53.08" y="244.30" width="2.30" height="2.6" fill="#f23645"/><rect x="59.86" y="244.30" width="2.30" height="2.6" fill="#f23645"/><rect x="66.63" y="244.30" width="2.30" height="2.6" fill="#f23645"/><rect x="73.40" y="244.30" width="2.30" height="2.6" fill="#f23645"/><rect x="80.17" y="244.30" width="2.30" height="2.6" fill="#f23645"/><rect x="86.94" y="244.30" width="2.30" height="2.6" fill="#f23645"/><rect x="93.72" y="244.30" width="2.30" height="2.6" fill="#f23645"/><rect x="100.49" y="244.30" width="2.30" height="2.6" fill="#f23645"/><rect x="107.26" y="244.30" width="2.30" height="2.6" fill="#f23645"/><rect x="114.03" y="244.30" width="2.30" height="2.6" fill="#f23645"/><rect x="120.80" y="244.30" width="2.30" height="2.6" fill="#f23645"/><rect x="127.58" y="244.30" width="2.30" height="2.6" fill="#f23645"/><rect x="134.35" y="244.30" width="2.30" height="2.6" fill="#f23645"/><rect x="141.12" y="244.30" width="2.30" height="2.6" fill="#f23645"/><rect x="147.89" y="244.30" width="2.30" height="2.6" fill="#f23645"/><rect x="154.66" y="244.30" width="2.30" height="2.6" fill="#f23645"/><rect x="161.44" y="244.30" width="2.30" height="2.6" fill="#f23645"/><rect x="168.21" y="244.30" width="2.30" height="2.6" fill="#f23645"/><rect x="174.98" y="244.30" width="2.30" height="2.6" fill="#f23645"/><rect x="181.75" y="244.30" width="2.30" height="2.6" fill="#f23645"/><rect x="188.52" y="244.30" width="2.30" height="2.6" fill="#f23645"/><rect x="195.30" y="244.30" width="2.30" height="2.6" fill="#f23645"/><rect x="202.07" y="244.30" width="2.30" height="2.6" fill="#f23645"/><rect x="208.84" y="244.30" width="2.30" height="2.6" fill="#f23645"/><rect x="215.61" y="244.30" width="2.30" height="2.6" fill="#f23645"/><rect x="222.38" y="244.30" width="2.30" height="2.6" fill="#f23645"/><rect x="229.16" y="244.30" width="2.30" height="2.6" fill="#f23645"/><rect x="235.93" y="244.30" width="2.30" height="2.6" fill="#f23645"/><rect x="242.70" y="244.30" width="2.30" height="2.6" fill="#f23645"/><rect x="249.47" y="244.30" width="2.30" height="2.6" fill="#f23645"/><rect x="256.24" y="244.30" width="2.30" height="2.6" fill="#f23645"/><rect x="263.02" y="244.30" width="2.30" height="2.6" fill="#f23645"/><rect x="269.79" y="244.30" width="2.30" height="2.6" fill="#f23645"/><rect x="276.56" y="244.30" width="2.30" height="2.6" fill="#f23645"/><rect x="283.33" y="244.30" width="2.30" height="2.6" fill="#f23645"/><rect x="290.10" y="244.30" width="2.30" height="2.6" fill="#f23645"/><rect x="296.88" y="244.30" width="2.30" height="2.6" fill="#f23645"/><rect x="303.65" y="244.30" width="2.30" height="2.6" fill="#f23645"/><rect x="310.42" y="244.30" width="2.30" height="2.6" fill="#f23645"/><rect x="317.19" y="244.30" width="2.30" height="2.6" fill="#f23645"/><rect x="323.96" y="244.30" width="2.30" height="2.6" fill="#f23645"/><rect x="330.74" y="244.30" width="2.30" height="2.6" fill="#f23645"/><rect x="337.51" y="244.30" width="2.30" height="2.6" fill="#f23645"/><rect x="344.28" y="244.30" width="2.30" height="2.6" fill="#f23645"/><rect x="351.05" y="244.30" width="2.30" height="2.6" fill="#f23645"/><rect x="357.82" y="244.30" width="2.30" height="2.6" fill="#f23645"/><rect x="364.60" y="244.30" width="2.30" height="2.6" fill="#f23645"/><rect x="371.37" y="244.30" width="2.30" height="2.6" fill="#f23645"/><rect x="378.14" y="244.30" width="2.30" height="2.6" fill="#f23645"/><rect x="384.91" y="244.30" width="2.30" height="2.6" fill="#f23645"/><rect x="391.68" y="244.30" width="2.30" height="2.6" fill="#f23645"/><rect x="398.46" y="244.30" width="2.30" height="2.6" fill="#f23645"/><rect x="405.23" y="244.30" width="2.30" height="2.6" fill="#f23645"/><rect x="412.00" y="244.30" width="2.30" height="2.6" fill="#f23645"/><rect x="418.77" y="244.30" width="2.30" height="2.6" fill="#f23645"/><rect x="425.54" y="244.30" width="2.30" height="2.6" fill="#f23645"/><rect x="432.32" y="244.30" width="2.30" height="2.6" fill="#f23645"/><rect x="439.09" y="244.30" width="2.30" height="2.6" fill="#f23645"/><rect x="445.86" y="244.30" width="2.30" height="2.6" fill="#f23645"/><rect x="452.63" y="244.30" width="2.30" height="2.6" fill="#f23645"/><rect x="459.40" y="244.30" width="2.30" height="2.6" fill="#f23645"/><rect x="466.18" y="244.30" width="2.30" height="2.6" fill="#f23645"/><rect x="472.95" y="244.30" width="2.30" height="2.6" fill="#f23645"/><rect x="479.72" y="244.30" width="2.30" height="2.6" fill="#f23645"/><rect x="486.49" y="244.30" width="2.30" height="2.6" fill="#f23645"/><rect x="493.26" y="244.30" width="2.30" height="2.6" fill="#f23645"/><rect x="500.04" y="244.30" width="2.30" height="2.6" fill="#f23645"/><rect x="506.81" y="244.30" width="2.30" height="2.6" fill="#f23645"/><rect x="513.58" y="244.30" width="2.30" height="2.6" fill="#f23645"/><rect x="520.35" y="244.30" width="2.30" height="2.6" fill="#f23645"/><rect x="527.12" y="244.30" width="2.30" height="2.6" fill="#f23645"/><rect x="533.90" y="244.30" width="2.30" height="2.6" fill="#f23645"/><rect x="540.67" y="244.30" width="2.30" height="2.6" fill="#f23645"/><rect x="547.44" y="244.30" width="2.30" height="2.6" fill="#f23645"/><rect x="554.21" y="244.30" width="2.30" height="2.6" fill="#f23645"/><rect x="560.98" y="244.30" width="2.30" height="2.6" fill="#f23645"/><rect x="567.76" y="244.30" width="2.30" height="2.6" fill="#f23645"/><rect x="574.53" y="244.30" width="2.30" height="2.6" fill="#f23645"/><rect x="581.30" y="244.30" width="2.30" height="2.6" fill="#f23645"/><rect x="588.07" y="244.30" width="2.30" height="2.6" fill="#f23645"/><rect x="594.84" y="244.30" width="2.30" height="2.6" fill="#f23645"/><rect x="601.62" y="244.30" width="2.30" height="2.6" fill="#f23645"/><rect x="608.39" y="244.30" width="2.30" height="2.6" fill="#f23645"/><rect x="615.16" y="244.30" width="2.30" height="2.6" fill="#f23645"/><rect x="621.93" y="244.30" width="2.30" height="2.6" fill="#f23645"/><rect x="628.70" y="244.30" width="2.30" height="2.6" fill="#f23645"/><rect x="635.48" y="244.30" width="2.30" height="2.6" fill="#f23645"/><rect x="642.25" y="244.30" width="2.30" height="2.6" fill="#f23645"/><rect x="649.02" y="244.30" width="2.30" height="2.6" fill="#f23645"/><rect x="655.79" y="244.30" width="2.30" height="2.6" fill="#f23645"/><rect x="662.56" y="244.30" width="2.30" height="2.6" fill="#f23645"/><rect x="669.34" y="244.30" width="2.30" height="2.6" fill="#f23645"/><rect x="676.11" y="244.30" width="2.30" height="2.6" fill="#f23645"/><rect x="682.88" y="244.30" width="2.30" height="2.6" fill="#f23645"/><rect x="689.65" y="244.30" width="2.30" height="2.6" fill="#f23645"/><rect x="696.42" y="244.30" width="2.30" height="2.6" fill="#f23645"/><rect x="703.20" y="244.30" width="2.30" height="2.6" fill="#f23645"/><rect x="709.97" y="244.30" width="2.30" height="2.6" fill="#f23645"/><rect x="716.74" y="244.30" width="2.30" height="2.6" fill="#f23645"/><rect x="723.51" y="244.30" width="2.30" height="2.6" fill="#f23645"/><rect x="730.28" y="244.30" width="2.30" height="2.6" fill="#f23645"/><rect x="737.06" y="244.30" width="2.30" height="2.6" fill="#f23645"/><rect x="743.83" y="244.30" width="2.30" height="2.6" fill="#f23645"/><rect x="750.60" y="244.30" width="2.30" height="2.6" fill="#f23645"/><rect x="757.37" y="244.30" width="2.30" height="2.6" fill="#f23645"/><rect x="764.14" y="244.30" width="2.30" height="2.6" fill="#f23645"/><rect x="770.92" y="244.30" width="2.30" height="2.6" fill="#f23645"/><rect x="777.69" y="244.30" width="2.30" height="2.6" fill="#f23645"/><rect x="784.46" y="244.30" width="2.30" height="2.6" fill="#f23645"/><rect x="791.23" y="244.30" width="2.30" height="2.6" fill="#f23645"/><rect x="798.00" y="244.30" width="2.30" height="2.6" fill="#f23645"/><rect x="804.78" y="244.30" width="2.30" height="2.6" fill="#f23645"/><rect x="811.55" y="244.30" width="2.30" height="2.6" fill="#f23645"/><rect x="818.32" y="244.30" width="2.30" height="2.6" fill="#f23645"/><rect x="825.09" y="244.30" width="2.30" height="2.6" fill="#f23645"/><rect x="831.86" y="244.30" width="2.30" height="2.6" fill="#f23645"/><rect x="838.64" y="244.30" width="2.30" height="2.6" fill="#f23645"/><rect x="845.41" y="244.30" width="2.30" height="2.6" fill="#f23645"/><rect x="852.18" y="244.30" width="2.30" height="2.6" fill="#f23645"/><rect x="858.95" y="244.30" width="2.30" height="2.6" fill="#f23645"/><rect x="865.72" y="244.30" width="2.30" height="2.6" fill="#f23645"/><rect x="872.50" y="244.30" width="2.30" height="2.6" fill="#f23645"/><rect x="879.27" y="244.30" width="2.30" height="2.6" fill="#f23645"/><rect x="886.04" y="244.30" width="2.30" height="2.6" fill="#f23645"/><rect x="892.81" y="244.30" width="2.30" height="2.6" fill="#f23645"/><rect x="899.58" y="244.30" width="2.30" height="2.6" fill="#f23645"/><rect x="906.36" y="244.30" width="2.30" height="2.6" fill="#f23645"/><rect x="913.13" y="244.30" width="2.30" height="2.6" fill="#f23645"/><rect x="919.90" y="244.30" width="2.30" height="2.6" fill="#f23645"/><rect x="926.67" y="244.30" width="2.30" height="2.6" fill="#f23645"/><rect x="933.44" y="244.30" width="2.30" height="2.6" fill="#f23645"/><rect x="940.22" y="244.30" width="2.30" height="2.6" fill="#f23645"/><rect x="946.99" y="244.30" width="2.30" height="2.6" fill="#f23645"/><rect x="953.76" y="244.30" width="2.30" height="2.6" fill="#f23645"/><rect x="960.53" y="244.30" width="2.30" height="2.6" fill="#f23645"/><rect x="967.30" y="244.30" width="2.30" height="2.6" fill="#f23645"/><rect x="974.08" y="244.30" width="2.30" height="2.6" fill="#f23645"/><rect x="980.85" y="244.30" width="2.30" height="2.6" fill="#f23645"/><rect x="987.62" y="244.30" width="2.30" height="2.6" fill="#f23645"/>
<path d="M553.25 330 L553.25 254.5 M542.3 264.6 L553.25 255 L564.2 264.6" fill="none" stroke="#fff" stroke-width="2.4" stroke-linecap="butt" stroke-linejoin="miter"/>
</svg>
<div class="pl" style="left:997.3px;top:30.6px;">1.07800</div>
<div class="pl" style="left:997.3px;top:47.93px;">1.07600</div>
<div class="pl" style="left:997.3px;top:65.26px;">1.07400</div>
<div class="pl" style="left:997.3px;top:82.59px;">1.07200</div>
<div class="pl" style="left:997.3px;top:99.92px;">1.07000</div>
<div class="pl" style="left:997.3px;top:117.25px;">1.06800</div>
<div class="pl" style="left:997.3px;top:134.58px;">1.06600</div>
<div class="pl" style="left:997.3px;top:151.9px;">1.06400</div>
<div class="pl" style="left:997.3px;top:169.23px;">1.06200</div>
<div class="pl" style="left:997.3px;top:186.56px;">1.06000</div>
<div class="pl" style="left:997.3px;top:203.89px;">1.05800</div>
<div class="pl" style="left:997.3px;top:221.22px;">1.05600</div>
<div class="pl" style="left:997.3px;top:238.55px;">1.05400</div>
<div class="pl" style="left:997.3px;top:255.88px;">1.05200</div>
<div class="pl" style="left:997.3px;top:273.21px;">1.05000</div>
<div class="pl" style="left:997.3px;top:290.54px;">1.04800</div>
<div class="pl" style="left:997.3px;top:307.87px;">1.04600</div>
<div class="pl" style="left:997.3px;top:325.2px;">1.04400</div>
<div class="pl" style="left:997.3px;top:342.53px;">1.04200</div>
<div class="pl" style="left:997.3px;top:359.85px;">1.04000</div>
<div class="pl" style="left:997.3px;top:377.18px;">1.03800</div>
<div class="pl" style="left:997.3px;top:394.51px;">1.03600</div>
<div class="pl" style="left:997.3px;top:411.84px;">1.03400</div>
<div class="pl" style="left:997.3px;top:429.17px;">1.03200</div>
<div class="pl" style="left:997.3px;top:446.5px;">1.03000</div>
<div class="pl" style="left:997.3px;top:463.83px;">1.02800</div>
<div class="tl" style="left:37.5px;">18</div>
<div class="tl" style="left:144.5px;">25</div>
<div class="tl" style="left:252.25px;">May</div>
<div class="tl" style="left:359.75px;">9</div>
<div class="tl" style="left:467.5px;">16</div>
<div class="tl" style="left:574.75px;">23</div>
<div class="tl" style="left:639.75px;">26</div>
<div class="tl" style="left:725.5px;">Jun</div>
<div class="tl" style="left:790px;">6</div>
<div class="tl" style="left:897.25px;">13</div>
<div class="pl" style="left:997px;top:8.9px;font-size:6.3px;">USD</div>
<div class="pl" style="left:997.3px;top:14px;opacity:0.35;clip-path:inset(58% 0 0 0);">1.08000</div>
<div class="tag" style="top:62.6px;height:9.4px;background:#0c9c82;">1.07380</div>
<div class="tag" style="top:182.4px;height:9.4px;background:#fff;color:#131722;font-weight:normal;">1.06000</div>
<div class="tag" style="top:241.1px;height:9.7px;padding-top:0.5px;background:#f23645;">1.05319</div>
<div class="tag" style="top:274px;height:9.9px;padding-top:0.5px;background:#ef5350;">1.04933</div>
<div class="tag" style="top:341.7px;height:17.2px;background:#ef5350;line-height:9.6px;">1.04160<br><span style="font-weight:normal;display:block;margin-top:-1.6px;color:#ffd9d6;">05:02:52</span></div>

<div class="ann" id="pt" style="left:402.6px;top:48.3px;width:155.4px;height:17px;line-height:19.6px;font-size:15.4px;color:#14a58c;"><span style="margin-left:3.4px;transform:scaleX(1.058);">Profit Target 1.0738</span></div>
<div class="ann" id="be" style="left:618.1px;top:168px;width:134.4px;height:17px;line-height:18.6px;font-size:15.4px;color:#fff;"><span style="margin-left:2.6px;transform:scaleX(1.045);">Buy Entry 1.0600</span></div>
<div class="ann" id="sl" style="left:618.1px;top:247.4px;width:130.8px;height:19px;line-height:20.4px;font-size:15.4px;color:#f23645;"><span style="margin-left:2.6px;transform:scaleX(0.994);">Stop Loss 1.0531</span></div>
<div class="ann" id="idc" style="left:488.5px;top:331.2px;width:193.4px;height:28.7px;line-height:30.6px;font-size:23.5px;color:#fff;"><span style="margin-left:4.2px;transform:scaleX(0.922);">Inside Day Candle</span></div>

<div class="lg" id="lg1" style="left:10px;">Euro / U.S. Dollar, 1D, FXCM</div>
<div class="lg" id="lg2" style="left:100px;">O<i>1.04836</i></div>
<div class="lg" id="lg3" style="left:132.5px;">H<i>1.04854</i></div>
<div class="lg" id="lg4" style="left:165px;">L<i>1.03652</i></div>
<div class="lg" id="lg5" style="left:196.3px;">C<i>1.04160</i></div>
<div class="lg" id="lg6" style="left:228.8px;"><i>&minus;0.00676 (&minus;0.64%)</i></div>
</div></body></html>
